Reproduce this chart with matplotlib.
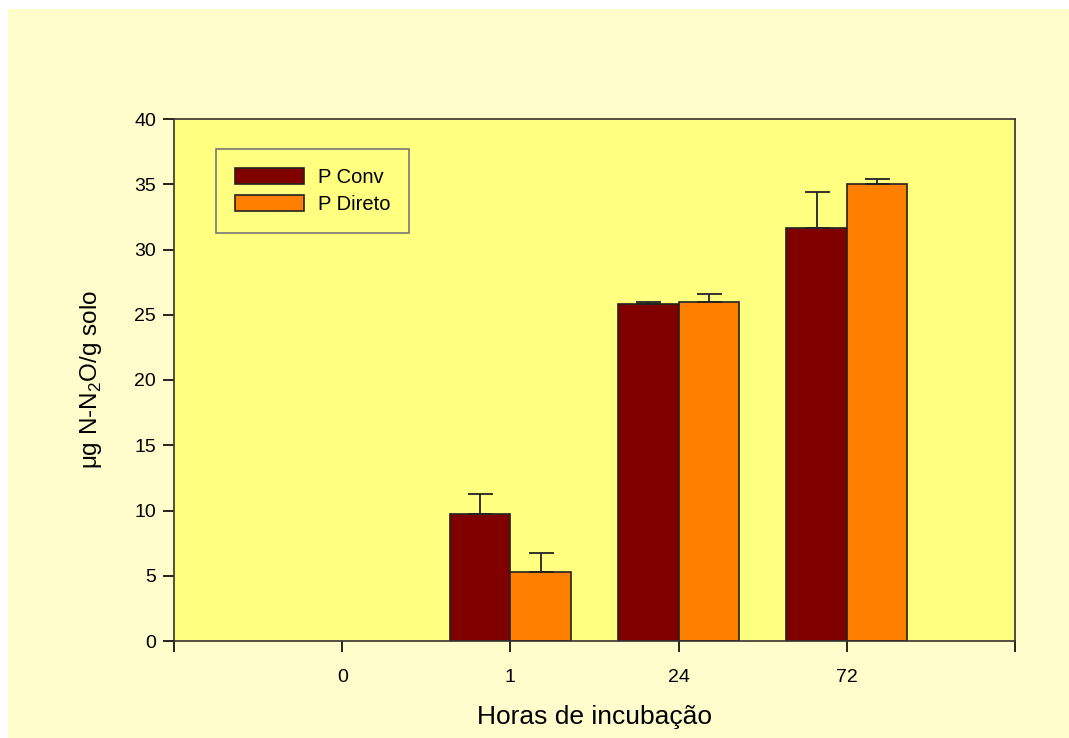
import numpy as np
import matplotlib.pyplot as plt
import matplotlib.patches as mpatches

plt.rcParams['font.family'] = ['Liberation Sans', 'DejaVu Sans']

# Dados
horas = ["0", "1", "24", "72"]
p_conv = [0.0, 9.75, 25.8, 31.65]
p_conv_err = [0.0, 1.5, 0.2, 2.75]
p_direto = [0.0, 5.3, 26.0, 35.0]
p_direto_err = [0.0, 1.45, 0.6, 0.4]

cor_conv = "#800000"
cor_direto = "#FF8000"

fig = plt.figure(figsize=(10.69, 7.38), dpi=100, facecolor="white")

# fundo amarelo claro
fig.patches.append(mpatches.Rectangle((8 / 1069, 0), 1, 1 - 9 / 738,
                                      transform=fig.transFigure,
                                      facecolor="#FFFDCC", edgecolor="none", zorder=-10))

ax = fig.add_axes([174 / 1069, 1 - 641 / 738, (1015 - 174) / 1069, (641 - 119) / 738])
ax.set_facecolor("#FFFF80")

x = np.arange(len(horas))
w = 0.36
lw_conv = [0 if v == 0 else 1.2 for v in p_conv]
lw_dir = [0 if v == 0 else 1.2 for v in p_direto]
ax.bar(x - w / 2, p_conv, w, color=cor_conv, edgecolor="#222222", linewidth=lw_conv, zorder=2)
ax.bar(x + w / 2, p_direto, w, color=cor_direto, edgecolor="#222222", linewidth=lw_dir, zorder=2)

# barras de erro só para cima
ax.errorbar(x[1:] - w / 2, p_conv[1:], yerr=[np.zeros(3), p_conv_err[1:]], fmt="none",
            ecolor="#222222", elinewidth=1.3, capsize=9, capthick=1.3, zorder=3)
ax.errorbar(x[1:] + w / 2, p_direto[1:], yerr=[np.zeros(3), p_direto_err[1:]], fmt="none",
            ecolor="#222222", elinewidth=1.3, capsize=9, capthick=1.3, zorder=3)

ax.set_xlim(-1, 4)
ax.set_ylim(0, 40)
ax.set_xticks(np.arange(-1, 5))
ax.set_xticklabels([""] + horas + [""])
ax.set_yticks(np.arange(0, 41, 5))
ax.tick_params(axis="both", direction="out", length=8, width=1.2, labelsize=14,
               colors="black")
ax.tick_params(axis="x", pad=12)
ax.tick_params(axis="y", pad=5)
for s in ax.spines.values():
    s.set_color("#333333")
    s.set_linewidth(1.2)

ax.set_xlabel("Horas de incubação", fontsize=19, labelpad=14)
ax.set_ylabel(r"$\mathregular{\mu}$g N-N$_\mathregular{2}$O/g solo", fontsize=17.5, labelpad=22)

handles = [
    mpatches.Patch(facecolor=cor_conv, edgecolor="#222222", linewidth=1.2, label="P Conv"),
    mpatches.Patch(facecolor=cor_direto, edgecolor="#222222", linewidth=1.2, label="P Direto"),
]
leg = ax.legend(handles=handles, loc="upper left", bbox_to_anchor=(42 / 841, 1 - 30 / 522),
                fontsize=14.5, frameon=True, fancybox=False, handlelength=3.4,
                handleheight=0.85, borderpad=0.95, labelspacing=0.4, handletextpad=0.7,
                borderaxespad=0)
leg.get_frame().set_facecolor("#FFFF80")
leg.get_frame().set_edgecolor("#777777")
leg.get_frame().set_linewidth(1.2)
leg.get_frame().set_alpha(1)

plt.savefig("out.png", dpi=100, facecolor=fig.get_facecolor())
plt.close()
